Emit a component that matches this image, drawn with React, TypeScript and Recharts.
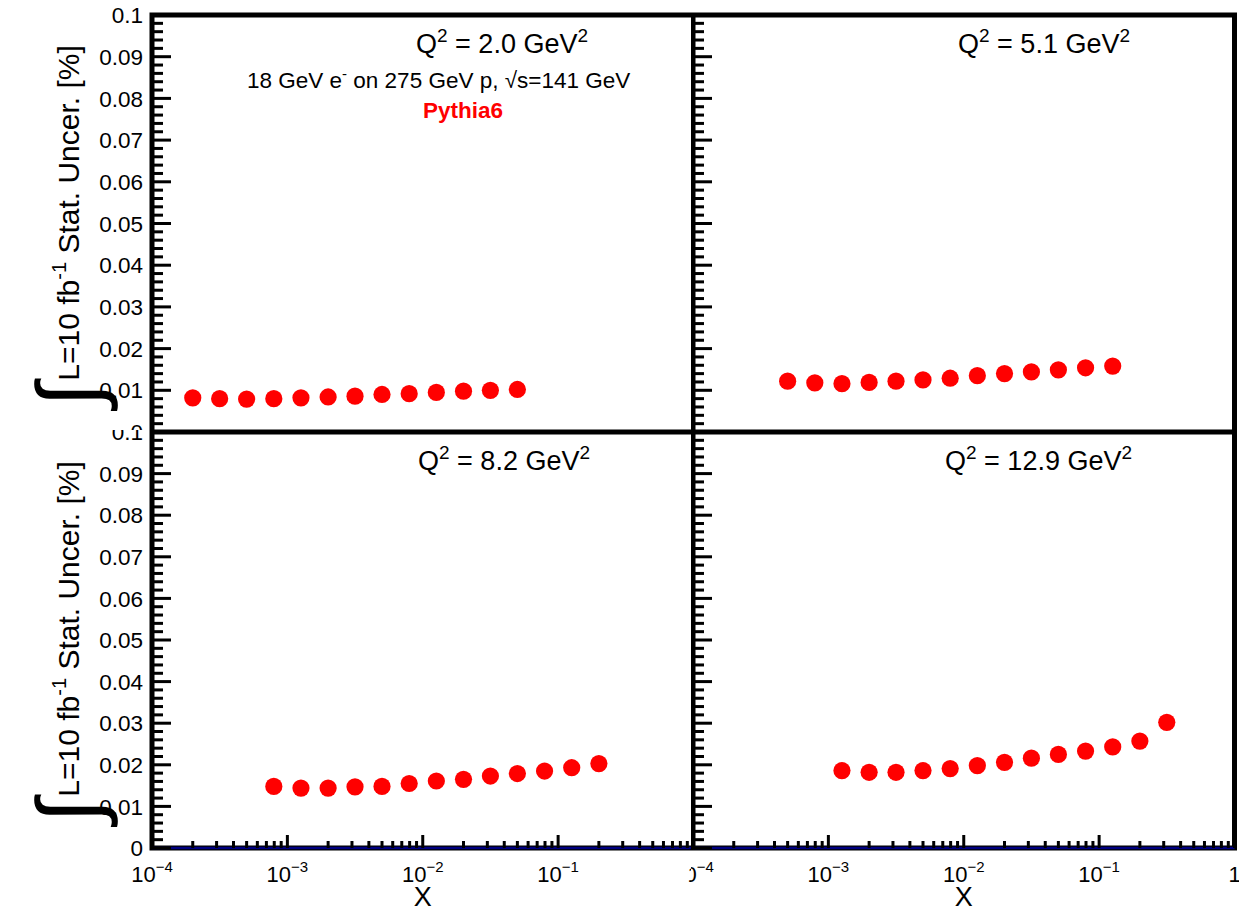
import React from 'react';
import { ReferenceArea, ReferenceLine, Scatter, ScatterChart, XAxis, YAxis } from 'recharts';

// x bin centres (log spaced) and statistical uncertainty per Q2 bin
const xQ2_20 = [0.0002, 0.000316, 0.0005, 0.000794, 0.00126, 0.002, 0.00316, 0.005, 0.00794, 0.0126, 0.02, 0.0316, 0.05];
const uQ2_20 = [0.0082, 0.008, 0.0079, 0.008, 0.0082, 0.0084, 0.0086, 0.009, 0.0092, 0.0095, 0.0098, 0.01, 0.0102];

const xQ2_51 = [0.0005, 0.000794, 0.00126, 0.002, 0.00316, 0.005, 0.00794, 0.0126, 0.02, 0.0316, 0.05, 0.0794, 0.126];
const uQ2_51 = [0.0122, 0.0118, 0.0116, 0.0119, 0.0122, 0.0125, 0.0129, 0.0135, 0.014, 0.0144, 0.0149, 0.0154, 0.0158];

const xQ2_82 = [0.000794, 0.00126, 0.002, 0.00316, 0.005, 0.00794, 0.0126, 0.02, 0.0316, 0.05, 0.0794, 0.126, 0.2];
const uQ2_82 = [0.0148, 0.0144, 0.0144, 0.0147, 0.0148, 0.0155, 0.0161, 0.0165, 0.0173, 0.0179, 0.0185, 0.0193, 0.0203];

const xQ2_129 = [0.00126, 0.002, 0.00316, 0.005, 0.00794, 0.0126, 0.02, 0.0316, 0.05, 0.0794, 0.126, 0.2, 0.316];
const uQ2_129 = [0.0186, 0.0182, 0.0182, 0.0186, 0.0191, 0.0198, 0.0206, 0.0216, 0.0225, 0.0233, 0.0243, 0.0257, 0.0302];

const xTicks = [
  0.0001, 0.0002, 0.0003, 0.0004, 0.0005, 0.0006, 0.0007, 0.0008, 0.0009,
  0.001, 0.002, 0.003, 0.004, 0.005, 0.006, 0.007, 0.008, 0.009,
  0.01, 0.02, 0.03, 0.04, 0.05, 0.06, 0.07, 0.08, 0.09,
  0.1, 0.2, 0.3, 0.4, 0.5, 0.6, 0.7, 0.8, 0.9, 1,
];
const yTicks = [
  0, 0.002, 0.004, 0.006, 0.008, 0.01, 0.012, 0.014, 0.016, 0.018,
  0.02, 0.022, 0.024, 0.026, 0.028, 0.03, 0.032, 0.034, 0.036, 0.038,
  0.04, 0.042, 0.044, 0.046, 0.048, 0.05, 0.052, 0.054, 0.056, 0.058,
  0.06, 0.062, 0.064, 0.066, 0.068, 0.07, 0.072, 0.074, 0.076, 0.078,
  0.08, 0.082, 0.084, 0.086, 0.088, 0.09, 0.092, 0.094, 0.096, 0.098, 0.1,
];

const FONT = '"Liberation Sans", Arial, Helvetica, sans-serif';
const TICK_W = 3;

const isDecade = (v: number) => Math.abs(Math.log10(v) - Math.round(Math.log10(v))) < 1e-6;
const isMajorY = (v: number) => Math.abs(v * 100 - Math.round(v * 100)) < 1e-6;

function XTick(props: any) {
  const { x, y, payload, side, showLabel } = props;
  const v = payload.value;
  const major = isDecade(v);
  const len = major ? 13 : 7;
  const y2 = side === 'bottom' ? y - len : y + len;
  const exp = Math.round(Math.log10(v));
  return (
    <g>
      <line x1={x} x2={x} y1={y} y2={y2} stroke="#000" strokeWidth={TICK_W} />
      {showLabel && major && (
        <text x={x} y={y + 34} textAnchor="middle" fontFamily={FONT} fontSize={22} fill="#000">
          {exp === 0 ? (
            '1'
          ) : (
            <>
              10
              <tspan dy={-10} fontSize={15}>
                {'\u2212' + Math.abs(exp)}
              </tspan>
            </>
          )}
        </text>
      )}
    </g>
  );
}

function YTickLeft(props: any) {
  const { x, y, payload, showLabel } = props;
  const v = payload.value;
  const major = isMajorY(v);
  const ax = x + 9;
  return (
    <g>
      <line x1={ax} x2={ax + (major ? 19 : 11)} y1={y} y2={y} stroke="#000" strokeWidth={TICK_W} />
      {showLabel && major && (
        <text x={x} y={y} dy="0.36em" textAnchor="end" fontFamily={FONT} fontSize={22.5} fill="#000">
          {String(parseFloat(v.toFixed(2)))}
        </text>
      )}
    </g>
  );
}

function YTickRight(props: any) {
  const { x, y, payload } = props;
  const major = isMajorY(payload.value);
  return <line x1={x} x2={x - (major ? 19 : 11)} y1={y} y2={y} stroke="#000" strokeWidth={TICK_W} />;
}

function XTitle(props: any) {
  const vb = props.viewBox;
  if (!vb) return null;
  return (
    <text x={vb.x + vb.width / 2} y={vb.y + 58} textAnchor="middle" fontFamily={FONT} fontSize={27} fill="#000">
      X
    </text>
  );
}

const RedDot = (p: any) => <circle cx={p.cx} cy={p.cy} r={8.6} fill="#ff0000" />;

interface PanelProps {
  xs: number[];
  ys: number[];
  left: number;
  top: number;
  width: number;
  height: number;
  margin: { top: number; right: number; bottom: number; left: number };
  yWidth: number;
  xHeight: number;
  yLabels: boolean;
  bottomRow: boolean;
  bg: boolean;
}

function Panel({ xs, ys, left, top, width, height, margin, yWidth, xHeight, yLabels, bottomRow, bg }: PanelProps) {
  const rows = xs.map((x, i) => ({ x, y: ys[i] }));
  return (
    <div style={{ position: 'absolute', left, top, width, height, background: bg ? '#fff' : 'transparent' }}>
      <ScatterChart width={width} height={height} margin={margin}>
        <XAxis
          xAxisId="b"
          dataKey="x"
          type="number"
          scale="log"
          domain={[0.0001, 1]}
          allowDataOverflow
          ticks={xTicks}
          interval={0}
          tickSize={0}
          tickMargin={0}
          tickLine={false}
          axisLine={false}
          height={xHeight}
          tick={(p: any) => <XTick {...p} side="bottom" showLabel={bottomRow} />}
          label={bottomRow ? <XTitle /> : undefined}
        />
        <XAxis
          xAxisId="t"
          orientation="top"
          type="number"
          scale="log"
          domain={[0.0001, 1]}
          allowDataOverflow
          ticks={xTicks}
          interval={0}
          tickSize={0}
          tickMargin={0}
          tickLine={false}
          axisLine={false}
          height={0}
          tick={(p: any) => <XTick {...p} side="top" showLabel={false} />}
        />
        <YAxis
          yAxisId="l"
          dataKey="y"
          type="number"
          domain={[0, 0.1]}
          allowDataOverflow
          ticks={yTicks}
          interval={0}
          tickSize={0}
          tickMargin={9}
          tickLine={false}
          axisLine={false}
          width={yWidth}
          tick={(p: any) => <YTickLeft {...p} showLabel={yLabels} />}
        />
        <YAxis
          yAxisId="r"
          orientation="right"
          type="number"
          domain={[0, 0.1]}
          allowDataOverflow
          ticks={yTicks}
          interval={0}
          tickSize={0}
          tickMargin={0}
          tickLine={false}
          axisLine={false}
          width={0}
          tick={(p: any) => <YTickRight {...p} />}
        />
        <ReferenceArea
          x1={0.0001}
          x2={1}
          y1={0}
          y2={0.1}
          xAxisId="b"
          yAxisId="l"
          fill="none"
          fillOpacity={0}
          stroke="#000"
          strokeWidth={5}
          ifOverflow="visible"
        />
        {bottomRow && (
          <ReferenceLine y={0} xAxisId="b" yAxisId="l" stroke="#000080" strokeWidth={2.5} ifOverflow="visible" />
        )}
        <Scatter data={rows} xAxisId="b" yAxisId="l" shape={RedDot} isAnimationActive={false} />
      </ScatterChart>
    </div>
  );
}

function QLabel({ x, y, q }: { x: number; y: number; q: string }) {
  return (
    <text x={x} y={y} fontFamily={FONT} fontSize={27} fill="#000">
      Q
      <tspan dy={-11} fontSize={19}>2</tspan>
      <tspan dy={11}>{` = ${q} GeV`}</tspan>
      <tspan dy={-11} fontSize={19}>2</tspan>
    </text>
  );
}

function YTitle({ cy }: { cy: number }) {
  return (
    <text
      transform={`translate(79 ${cy}) rotate(-90)`}
      textAnchor="middle"
      fontFamily={FONT}
      fontSize={30}
      fill="#000"
    >
      <tspan fontSize={88} dy={20}>{'\u222B'}</tspan>
      <tspan dy={-20} dx={2}>L=10 fb</tspan>
      <tspan dy={-13} fontSize={20}>{'-1'}</tspan>
      <tspan dy={13}> Stat. Uncer. [%]</tspan>
    </text>
  );
}

export default function App() {
  return (
    <div style={{ position: 'absolute', left: 0, top: 0, width: 1239, height: 912, background: '#fff', overflow: 'hidden' }}>
      <Panel
        xs={xQ2_20}
        ys={uQ2_20}
        left={0}
        top={0}
        width={696}
        height={434}
        margin={{ top: 15, right: 2.5, bottom: 2, left: 0 }}
        yWidth={152}
        xHeight={0}
        yLabels
        bottomRow={false}
        bg={false}
      />
      <Panel
        xs={xQ2_51}
        ys={uQ2_51}
        left={691}
        top={0}
        width={548}
        height={434}
        margin={{ top: 15, right: 4.5, bottom: 2, left: 0 }}
        yWidth={2}
        xHeight={0}
        yLabels={false}
        bottomRow={false}
        bg
      />
      <Panel
        xs={xQ2_82}
        ys={uQ2_82}
        left={0}
        top={430}
        width={696}
        height={482}
        margin={{ top: 2, right: 2.5, bottom: 0, left: 0 }}
        yWidth={152}
        xHeight={64}
        yLabels
        bottomRow
        bg
      />
      <Panel
        xs={xQ2_129}
        ys={uQ2_129}
        left={691}
        top={430}
        width={548}
        height={482}
        margin={{ top: 2, right: 4.5, bottom: 0, left: 0 }}
        yWidth={2}
        xHeight={64}
        yLabels={false}
        bottomRow
        bg
      />
      <svg
        width={1239}
        height={912}
        style={{ position: 'absolute', left: 0, top: 0, pointerEvents: 'none' }}
      >
        <YTitle cy={226} />
        <YTitle cy={642} />
        <QLabel x={416} y={53} q="2.0" />
        <QLabel x={958} y={53} q="5.1" />
        <QLabel x={418} y={470} q="8.2" />
        <QLabel x={945} y={470} q="12.9" />
        <text x={247} y={88} fontFamily={FONT} fontSize={22.5} fill="#000">
          18 GeV e
          <tspan dy={-9} fontSize={15}>-</tspan>
          <tspan dy={9}>{' on 275 GeV p, \u221As=141 GeV'}</tspan>
        </text>
        <text x={463} y={118} textAnchor="middle" fontFamily={FONT} fontSize={22.5} fontWeight="bold" fill="#ff0000">
          Pythia6
        </text>
      </svg>
    </div>
  );
}
